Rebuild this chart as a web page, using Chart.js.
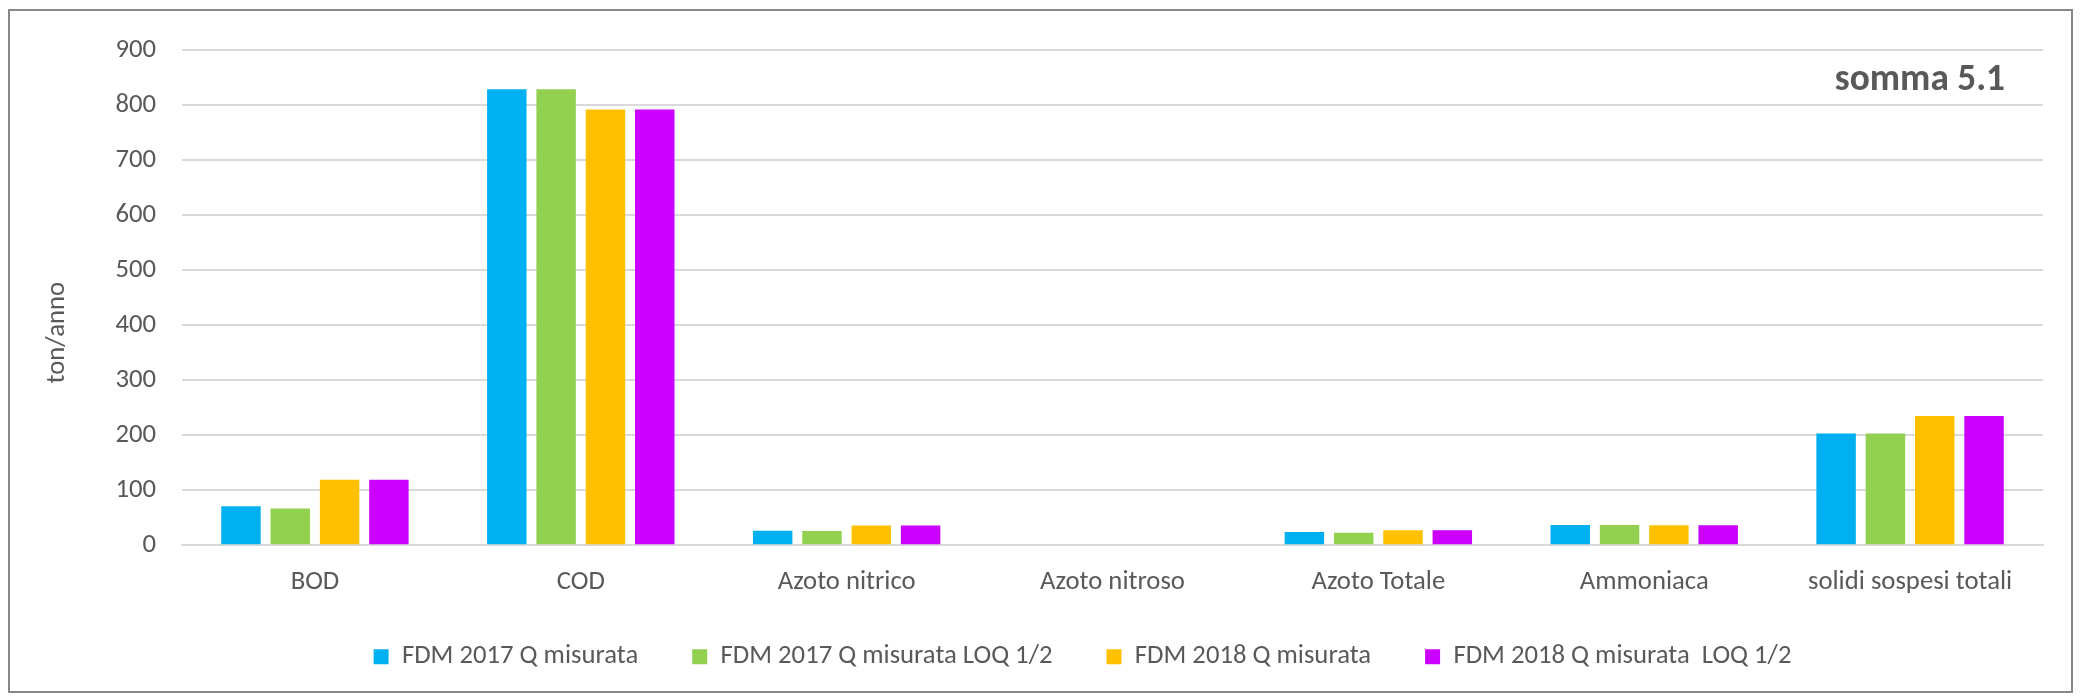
<!DOCTYPE html>
<html>
<head>
<meta charset="utf-8">
<title>somma 5.1</title>
<script src="https://cdn.jsdelivr.net/npm/chart.js@4.4.1/dist/chart.umd.min.js"></script>
<style>
  body { margin: 0; background: #fff; }
  #wrap { width: 2080px; height: 699px; }
</style>
</head>
<body>
<div id="wrap"><canvas id="loads" width="2080" height="699"></canvas></div>
<script>
// parametri (ton/anno)
var categories = ['BOD', 'COD', 'Azoto nitrico', 'Azoto nitroso', 'Azoto Totale', 'Ammoniaca', 'solidi sospesi totali'];
var seriesNames = ['FDM 2017 Q misurata', 'FDM 2017 Q misurata LOQ 1/2', 'FDM 2018 Q misurata', 'FDM 2018 Q misurata  LOQ 1/2'];
var fdm2017 = [71, 828.5, 26.5, 0, 24, 37, 203];
var fdm2017loq = [67, 828.5, 26, 0, 23, 37, 203];
var fdm2018 = [119, 792, 36, 0, 27.5, 36.5, 235];
var fdm2018loq = [119, 792, 36, 0, 27.5, 36.5, 235];
var yTicks = [0, 100, 200, 300, 400, 500, 600, 700, 800, 900];

var colors = ['#00b0f0', '#92d050', '#ffc000', '#cc00ff'];
var textColor = '#595959';
var fontFamily = 'Carlito, Calibri, sans-serif';

Chart.defaults.font.family = fontFamily;
Chart.defaults.color = textColor;

var allSeries = [fdm2017, fdm2017loq, fdm2018, fdm2018loq];
var datasets = [];
for (var i in allSeries) {
  datasets.push({
    label: seriesNames[i],
    data: allSeries[i],
    backgroundColor: colors[i],
    categoryPercentage: 0.742,
    barPercentage: 0.8
  });
}

// the legend keeps its big item gap but sits a bit higher / to the right
var legendNudge = {
  id: 'legendNudge',
  afterLayout: function (chart) {
    var lg = chart.legend;
    lg.top -= 10; lg.bottom -= 10;
    lg.left += 5; lg.right += 5;
  }
};

// chart title, axis title and frame drawn on the canvas
var decorations = {
  id: 'decorations',
  afterDraw: function (chart) {
    var ctx = chart.ctx;
    var area = chart.chartArea;
    ctx.save();
    ctx.fillStyle = textColor;

    ctx.font = 'bold 37.3px ' + fontFamily;
    ctx.textAlign = 'right';
    ctx.textBaseline = 'alphabetic';
    ctx.fillText('somma 5.1', area.right - 38, area.top + 40);

    ctx.font = '26.7px ' + fontFamily;
    ctx.textAlign = 'center';
    ctx.textBaseline = 'middle';
    ctx.translate(57, (area.top + area.bottom) / 2 + 35);
    ctx.rotate(-Math.PI / 2);
    ctx.fillText('ton/anno', 0, 0);
    ctx.restore();

    ctx.save();
    ctx.strokeStyle = '#888888';
    ctx.lineWidth = 2;
    ctx.strokeRect(9, 10, 2063, 682);
    ctx.restore();
  }
};

var ctx1 = document.getElementById('loads');

var barChart = new Chart(ctx1, {
  type: 'bar',
  data: {
    labels: categories,
    datasets: datasets
  },
  options: {
    responsive: false,
    animation: false,
    layout: {
      padding: { left: 112, right: 37, top: 50, bottom: 9 }
    },
    plugins: {
      tooltip: { enabled: false },
      legend: {
        display: true,
        position: 'bottom',
        labels: {
          boxWidth: 15,
          boxHeight: 15,
          padding: 54,
          color: textColor,
          font: { size: 26.7 }
        }
      }
    },
    scales: {
      x: {
        grid: { display: false, drawTicks: false },
        border: { display: true, color: '#d9d9d9', width: 2 },
        ticks: {
          padding: 21,
          color: textColor,
          font: { size: 26.7 },
          maxRotation: 0,
          autoSkip: false
        },
        afterFit: function (scale) { scale.height = 54; }
      },
      y: {
        min: 0,
        max: 900,
        afterBuildTicks: function (scale) {
          scale.ticks = yTicks.map(function (v) { return { value: v }; });
        },
        grid: { color: '#d9d9d9', lineWidth: 2, drawTicks: false },
        border: { display: false },
        ticks: {
          padding: 26,
          color: textColor,
          font: { size: 26.7 }
        },
        afterFit: function (scale) { scale.width = 70; }
      }
    }
  },
  plugins: [legendNudge, decorations]
});
</script>
</body>
</html>
